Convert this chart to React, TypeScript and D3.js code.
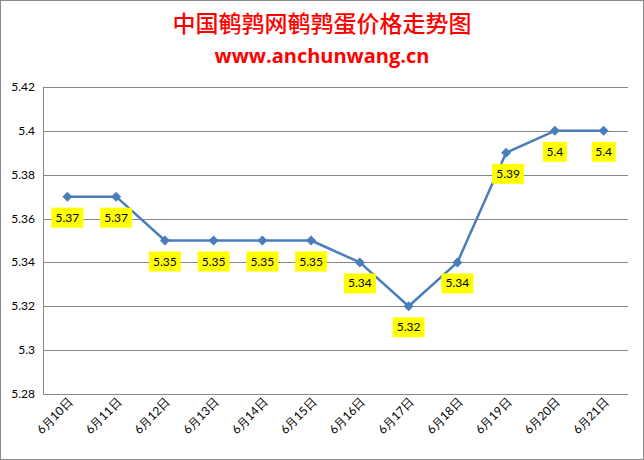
import React from "react";
import * as d3 from "d3";

const categories = ["6月10日","6月11日","6月12日","6月13日","6月14日","6月15日","6月16日","6月17日","6月18日","6月19日","6月20日","6月21日"];
const values = [5.37,5.37,5.35,5.35,5.35,5.35,5.34,5.32,5.34,5.39,5.4,5.4];
const valueLabels = ["5.37","5.37","5.35","5.35","5.35","5.35","5.34","5.32","5.34","5.39","5.4","5.4"];
const yTicks = [5.28,5.3,5.32,5.34,5.36,5.38,5.4,5.42];
const yTickLabels = ["5.28","5.3","5.32","5.34","5.36","5.38","5.4","5.42"];
const title = "中国鹌鹑网鹌鹑蛋价格走势图";
const subtitle = "www.anchunwang.cn";

const W = 644, H = 460;
const L = 43, R = 628, T = 87, B = 394;

export default function App() {
  const x = d3.scaleBand<string>().domain(categories).range([L, R]);
  const y = d3.scaleLinear().domain([5.28, 5.42]).range([B, T]);
  const cx = (i: number) => (x(categories[i]) as number) + x.bandwidth() / 2;
  const line = d3.line<number>().x((_, i) => cx(i)).y(v => y(v));
  const font = "Lato, 'Open Sans', 'Noto Sans', sans-serif";
  const marker = d3.symbol().type(d3.symbolSquare).size(50)() || "";
  return (
    <svg width={W} height={H} style={{ position: "absolute", left: 0, top: 0, background: "#fff" }}>
      <rect x={0.5} y={0.5} width={W - 1} height={H - 1} fill="#fff" stroke="#888" strokeWidth={1} />
      <text x={322} y={32} textAnchor="middle" fill="#ff0000" fontSize={23} fontFamily="'Noto Sans CJK SC', sans-serif" fontWeight={500}>{title}</text>
      <text x={322} y={63} textAnchor="middle" fill="#ff0000" fontSize={20} fontWeight="bold" fontFamily="'Open Sans', 'Noto Sans', sans-serif">{subtitle}</text>
      {yTicks.map((t, i) => (
        <g key={i}>
          <line x1={L} x2={R} y1={Math.round(y(t)) + 0.5} y2={Math.round(y(t)) + 0.5} stroke="#868686" strokeWidth={1} />
          <text x={35} y={y(t) + 4} textAnchor="end" fontSize={12} fontFamily={font} fill="#000">{yTickLabels[i]}</text>
        </g>
      ))}
      <line x1={L + 0.5} x2={L + 0.5} y1={T} y2={B} stroke="#868686" strokeWidth={1} />
      {categories.map((c, i) => (
        <text key={c} transform={`translate(${cx(i) + 6},${B + 9}) rotate(-45)`} textAnchor="end" fontSize={12} fontFamily={font} fill="#000">{c}</text>
      ))}
      <path d={line(values) || ""} fill="none" stroke="#4a7ebb" strokeWidth={2.5} strokeLinejoin="round" />
      {values.map((v, i) => (
        <path key={i} d={marker} transform={`translate(${cx(i)},${y(v)}) rotate(45)`} fill="#4a7ebb" />
      ))}
      {values.map((v, i) => {
        const lx = cx(i) + (i === 9 ? 2 : 0);
        const ly = y(v) + 21;
        const w = valueLabels[i].length > 3 ? 32 : 24;
        return (
          <g key={"l" + i}>
            <rect x={lx - w / 2} y={ly - 10} width={w} height={20} fill="#ffff00" />
            <text x={lx} y={ly + 4} textAnchor="middle" fontSize={12} fontFamily={font} fill="#000">{valueLabels[i]}</text>
          </g>
        );
      })}
    </svg>
  );
}
